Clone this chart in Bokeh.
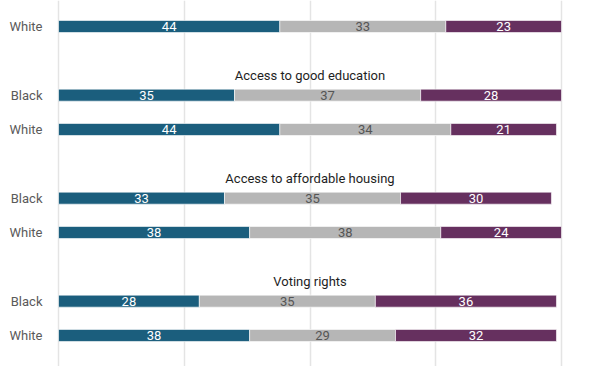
from bokeh.plotting import figure
from bokeh.models import ColumnDataSource, FixedTicker, Range1d
from bokeh.core.properties import value
from bokeh.embed import file_html
from bokeh.resources import INLINE

# ---- data ----
group_titles = [None, "Access to good education", "Access to affordable housing", "Voting rights"]
group_rows = [["White"], ["Black", "White"], ["Black", "White"], ["Black", "White"]]
positive = [44, 35, 44, 33, 38, 28, 38]
neutral = [33, 37, 34, 35, 38, 35, 29]
negative = [23, 28, 21, 30, 24, 36, 32]
grid_ticks = [0, 25, 50, 75, 100]

BLUE = "#1b5e7d"
GRAY = "#b6b6b6"
PURPLE = "#66305f"
FONT = value("Roboto")

# positions: each group takes 3 slots (title/Black, White, gap)
labels, ypos, title_y, titles = [], [], [], []
for gi, (t, rows) in enumerate(zip(group_titles, group_rows)):
    base = gi * 3 - 1
    for r in rows:
        labels.append(r)
        ypos.append(base + (0 if r == "Black" else 1))
    if t is not None:
        titles.append(t)
        title_y.append(base - 0.57)

left1 = [0] * len(positive)
right1 = positive
left2 = positive
right2 = [a + b for a, b in zip(positive, neutral)]
left3 = right2
right3 = [a + b for a, b in zip(right2, negative)]

src = ColumnDataSource(dict(
    y=ypos, label=labels,
    l1=left1, r1=right1, l2=left2, r2=right2, l3=left3, r3=right3,
    c1=[(a + b) / 2 for a, b in zip(left1, right1)],
    c2=[(a + b) / 2 for a, b in zip(left2, right2)],
    c3=[(a + b) / 2 for a, b in zip(left3, right3)],
    t1=[str(v) for v in positive], t2=[str(v) for v in neutral], t3=[str(v) for v in negative],
))

W, H = 604, 366
px_per_unit = 5.03
x_left = -58 / px_per_unit
x_right = x_left + W / px_per_unit
unit_y = 34.33
y_top = -26 / unit_y
y_bot = y_top + H / unit_y

p = figure(width=W, height=H, output_backend="svg", toolbar_location=None,
           x_range=Range1d(x_left, x_right), y_range=Range1d(y_bot, y_top),
           min_border=0, outline_line_color=None)
p.xaxis.visible = False
p.yaxis.visible = False
p.ygrid.visible = False
p.xgrid.ticker = FixedTicker(ticks=grid_ticks)
p.xgrid.grid_line_color = "#e4e4e4"
p.xgrid.grid_line_width = 1.5

bh = 0.35
p.hbar(y="y", left="l1", right="r1", height=bh, source=src, fill_color=BLUE,
       line_color="white", line_alpha=0.6, line_width=1)
p.hbar(y="y", left="l2", right="r2", height=bh, source=src, fill_color=GRAY,
       line_color="white", line_alpha=0.6, line_width=1)
p.hbar(y="y", left="l3", right="r3", height=bh, source=src, fill_color=PURPLE,
       line_color="white", line_alpha=0.6, line_width=1)

p.text(x="c1", y="y", text="t1", source=src, text_align="center", text_baseline="middle",
       text_color="white", text_font=FONT, text_font_size="13px")
p.text(x="c2", y="y", text="t2", source=src, text_align="center", text_baseline="middle",
       text_color="#555555", text_font=FONT, text_font_size="13px")
p.text(x="c3", y="y", text="t3", source=src, text_align="center", text_baseline="middle",
       text_color="white", text_font=FONT, text_font_size="13px")

label_x = -(58 - 42) / px_per_unit
p.text(x=[label_x] * len(labels), y=ypos, text=labels, text_align="right", text_baseline="middle",
       text_color="#5a5a5a", text_font=FONT, text_font_size="13px")

p.text(x=[50] * len(titles), y=title_y, text=titles, text_align="center", text_baseline="middle",
       text_color="#1e1e1e", text_font=FONT, text_font_size="13px")

open("out.html", "w").write(file_html(p, INLINE))
